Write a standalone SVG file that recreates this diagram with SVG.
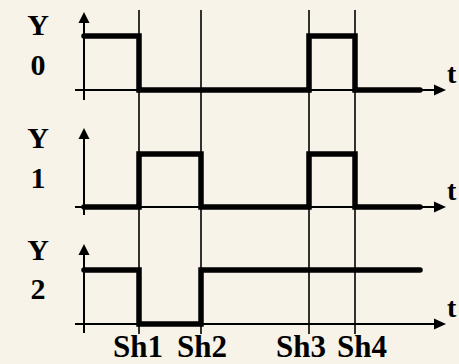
<svg xmlns="http://www.w3.org/2000/svg" width="459" height="364" viewBox="0 0 459 364">
<style>
.bg{fill:#f7f3e8}
.guide{stroke:#000;stroke-width:1.6;fill:none}
.axis{stroke:#000;stroke-width:2;fill:none}
.sig{stroke:#000;stroke-width:5.5;fill:none;stroke-linecap:round;stroke-linejoin:miter}
.lbl{font-family:"Liberation Serif","Times New Roman",serif;font-weight:bold;font-size:30px;fill:#000;text-anchor:middle}
.sh{font-family:"Liberation Serif","Times New Roman",serif;font-weight:bold;font-size:31px;fill:#000;text-anchor:middle}
.t{font-family:"Liberation Serif","Times New Roman",serif;font-weight:bold;font-size:28px;fill:#000}
.ah{fill:#000}
</style>
<defs>
<polygon id="up" class="ah" points="0,0 -5.5,11 5.5,11"/>
<polygon id="right" class="ah" points="0,0 -12,-5.5 -12,5.5"/>
</defs>
<rect class="bg" x="0" y="0" width="459" height="364"/>
<g id="guides">
<line class="guide" x1="139" y1="10" x2="139" y2="334"/>
<line class="guide" x1="201" y1="10" x2="201" y2="334"/>
<line class="guide" x1="309" y1="10" x2="309" y2="334"/>
<line class="guide" x1="355" y1="10" x2="355" y2="334"/>
</g>
<g id="y0">
<line class="axis" x1="84" y1="18" x2="84" y2="100"/>
<use href="#up" x="84" y="12"/>
<line class="axis" x1="75" y1="90" x2="438" y2="90"/>
<use href="#right" x="446" y="90"/>
<path class="sig" d="M84,36 H139 V90 H309 V36 H355 V90 H420"/>
<text class="lbl" x="38" y="35">Y</text>
<text class="lbl" x="38" y="75">0</text>
<text class="t" x="447" y="83">t</text>
</g>
<g id="y1">
<line class="axis" x1="84" y1="134" x2="84" y2="215"/>
<use href="#up" x="84" y="128"/>
<line class="axis" x1="75" y1="207" x2="438" y2="207"/>
<use href="#right" x="446" y="207"/>
<path class="sig" d="M84,207 H139 V154 H201 V207 H309 V154 H355 V207 H420"/>
<text class="lbl" x="38" y="148">Y</text>
<text class="lbl" x="38" y="188">1</text>
<text class="t" x="447" y="200">t</text>
</g>
<g id="y2">
<line class="axis" x1="84" y1="250" x2="84" y2="333"/>
<use href="#up" x="84" y="244"/>
<line class="axis" x1="75" y1="324" x2="438" y2="324"/>
<use href="#right" x="446" y="324"/>
<path class="sig" d="M84,270 H139 V324 H201 V270 H420"/>
<text class="lbl" x="38" y="260">Y</text>
<text class="lbl" x="38" y="299">2</text>
<text class="t" x="447" y="317">t</text>
</g>
<g id="labels">
<text class="sh" x="138" y="357">Sh1</text>
<text class="sh" x="202" y="357">Sh2</text>
<text class="sh" x="301" y="357">Sh3</text>
<text class="sh" x="362" y="357">Sh4</text>
</g>
</svg>
